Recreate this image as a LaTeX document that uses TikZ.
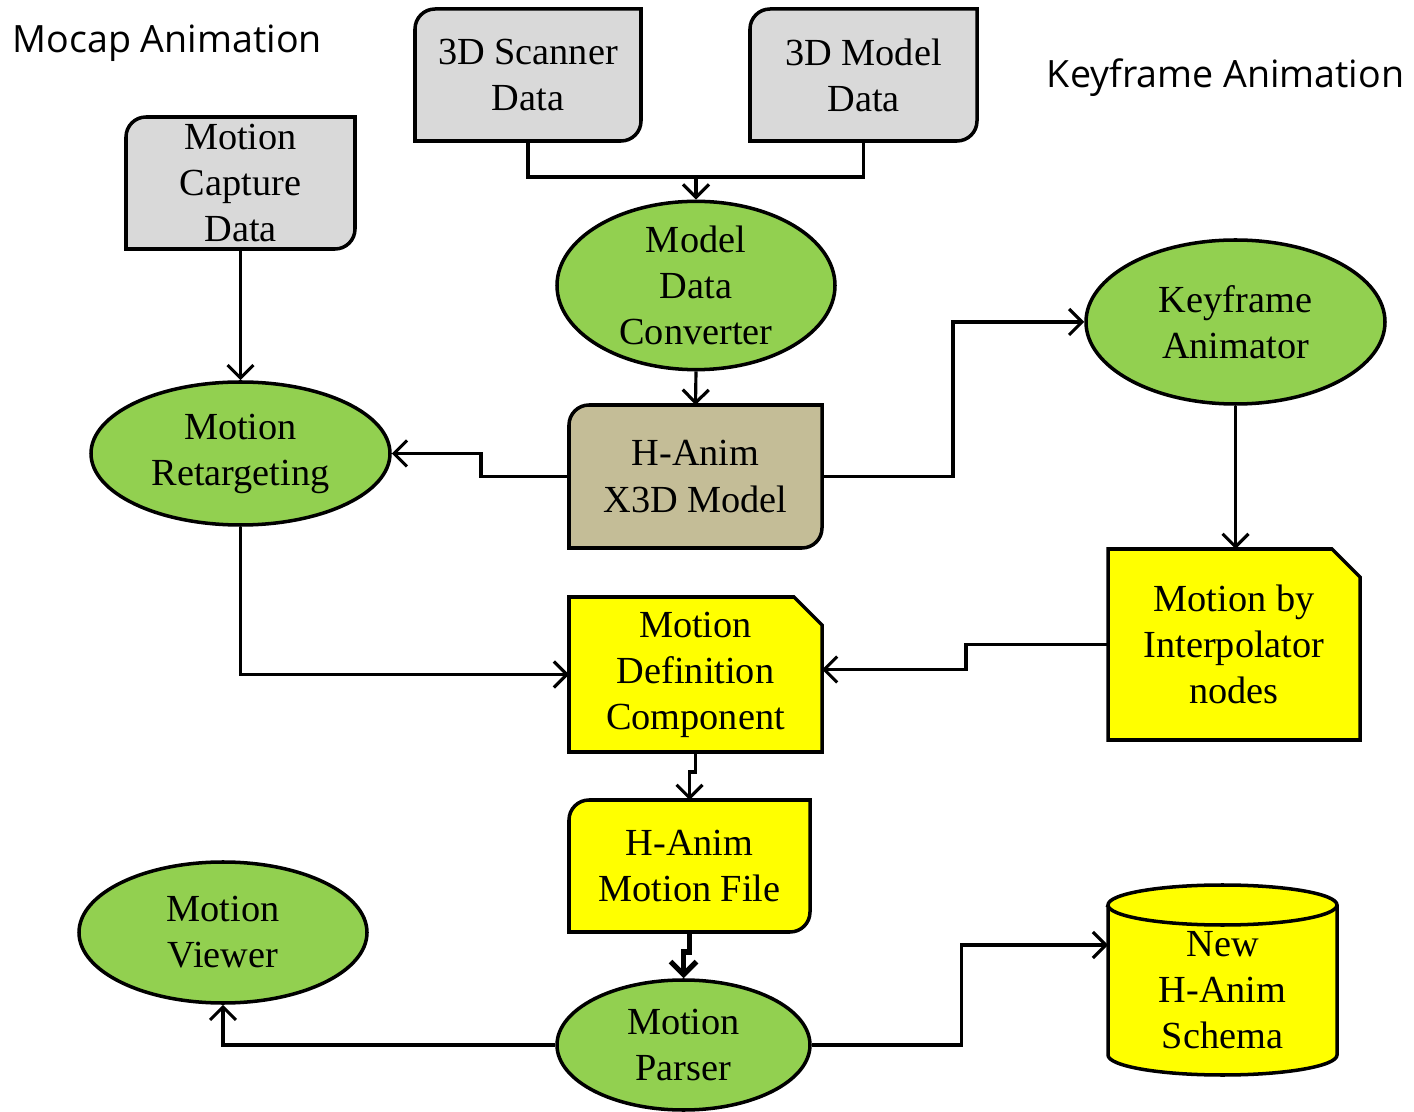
\documentclass[tikz,border=0pt]{standalone}
\usepackage{fontspec}
\setmainfont{Liberation Serif}
\newfontfamily\headfont{Open Sans}
\usetikzlibrary{shapes.geometric,arrows.meta,backgrounds}

\definecolor{boxgray}{RGB}{217,217,217}
\definecolor{modeltan}{RGB}{196,189,151}
\definecolor{procgreen}{RGB}{146,208,80}
\definecolor{fileyellow}{RGB}{255,255,0}

\tikzset{
  boxtext/.style={font=\fontsize{10.9}{13.1}\selectfont, align=center},
  boxline/.style={line width=1pt},
  heading/.style={font=\headfont\fontsize{10.7}{13}\selectfont, inner sep=0pt},
  process/.style={ellipse, draw, boxline, fill=procgreen, inner sep=0pt, boxtext},
  databox/.style={rectangle, inner sep=0pt, outer sep=0pt, boxtext},
  wire/.style={line width=0.9pt},
  link/.style={wire, -{Straight Barb[length=1.3mm,width=2.6mm]}},
}

% box with rounded top-left and bottom-right corners
\newcommand{\cornerbox}[2]{%
  \filldraw[boxline, fill=#2] ([yshift=-2mm]#1.north west)
    arc[start angle=180, end angle=90, radius=2mm] -- (#1.north east)
    -- ([yshift=2mm]#1.south east)
    arc[start angle=0, end angle=-90, radius=2mm] -- (#1.south west) -- cycle;}
% box with the top-right corner cut off
\newcommand{\notchbox}[1]{%
  \filldraw[boxline, fill=fileyellow] (#1.south west) -- (#1.north west)
    -- ([xshift=-2.8mm]#1.north east) -- ([yshift=-2.8mm]#1.north east)
    -- (#1.south east) -- cycle;}

\begin{document}
\begin{tikzpicture}
  \useasboundingbox (0,0) rectangle (14.14,-11.12);

  % headings
  \node[heading, anchor=west] (mocaphead) at (0.12,-0.43) {Mocap Animation};
  \node[heading, anchor=east] (keyhead) at (14.05,-0.78) {Keyframe Animation};

  % data sources
  \node[databox, minimum width=2.26cm, minimum height=1.32cm] (scan) at (5.28,-0.75) {3D Scanner\\Data};
  \node[databox, minimum width=2.27cm, minimum height=1.32cm] (model) at (8.635,-0.75) {3D Model\\Data};
  \node[databox, minimum width=2.29cm, minimum height=1.32cm] (mcap) at (2.405,-1.83) {Motion\\Capture\\Data};
  \node[databox, minimum width=2.53cm, minimum height=1.43cm] (x3d) at (6.955,-4.765) {H-Anim\\X3D Model};
  \node[databox, minimum width=2.41cm, minimum height=1.32cm] (mfile) at (6.895,-8.66) {H-Anim\\Motion File};

  % processes
  \node[process, minimum width=2.78cm, minimum height=1.45cm] (conv) at (6.96,-2.855) {Model\\Data\\Converter};
  \node[process, minimum width=2.99cm, minimum height=1.64cm] (keyanim) at (12.355,-3.22) {Keyframe\\Animator};
  \node[process, minimum width=2.99cm, minimum height=1.43cm] (retarget) at (2.405,-4.535) {Motion\\Retargeting};
  \node[process, minimum width=2.88cm, minimum height=1.41cm] (viewer) at (2.23,-9.325) {Motion\\Viewer};
  \node[process, minimum width=2.53cm, minimum height=1.30cm] (parser) at (6.835,-10.45) {Motion\\Parser};

  % motion documents
  \node[databox, minimum width=2.53cm, minimum height=1.55cm] (mdc) at (6.955,-6.745) {Motion\\Definition\\Component};
  \node[databox, minimum width=2.52cm, minimum height=1.91cm] (interp) at (12.34,-6.445) {Motion by\\Interpolator\\nodes};
  \node[databox, minimum width=2.29cm, minimum height=1.70cm] (schema) at (12.225,-9.90) {New\\H-Anim\\Schema};

  \begin{pgfonlayer}{background}
    \cornerbox{scan}{boxgray}
    \cornerbox{model}{boxgray}
    \cornerbox{mcap}{boxgray}
    \cornerbox{x3d}{modeltan}
    \cornerbox{mfile}{fileyellow}
    \notchbox{mdc}
    \notchbox{interp}
    % cylinder
    \filldraw[boxline, fill=fileyellow] (schema.north west) -- ([yshift=2mm]schema.south west)
      arc[start angle=180, end angle=360, x radius=1.145cm, y radius=2mm] -- (schema.north east)
      arc[start angle=0, end angle=180, x radius=1.145cm, y radius=2mm] -- cycle;
    \draw[boxline] (schema.north west) arc[start angle=180, end angle=360, x radius=1.145cm, y radius=2mm];
  \end{pgfonlayer}

  % connectors
  \coordinate (merge) at (6.96,-1.77);
  \draw[wire] (scan.south) |- (merge) -| (model.south);
  \draw[link] (merge) -- (conv.north);
  \draw[link] (mcap.south) -- (retarget.north);
  \draw[link] (conv.south) -- (x3d.north);
  \draw[link] (x3d.west) -- ++(-0.88,0) |- (retarget.east);
  \draw[link] (x3d.east) -- ++(1.31,0) |- (keyanim.west);
  \draw[link] (keyanim.south) -- (keyanim.south |- interp.north);
  \draw[link] (interp.west) -- ++(-1.42,0) |- ([yshift=0.05cm]mdc.east);
  \draw[link] (retarget.south) |- (mdc.west);
  \draw[link] (mdc.south) -- ++(0,-0.2) -| (mfile.north);
  \draw[link, line width=1.5pt] (mfile.south) -- ++(0,-0.2) -| (parser.north);
  \draw[link] (parser.west) -| (viewer.south);
  \draw[link] (parser.east) -- ++(1.5,0) |- ([yshift=0.45cm]schema.west);
\end{tikzpicture}
\end{document}
